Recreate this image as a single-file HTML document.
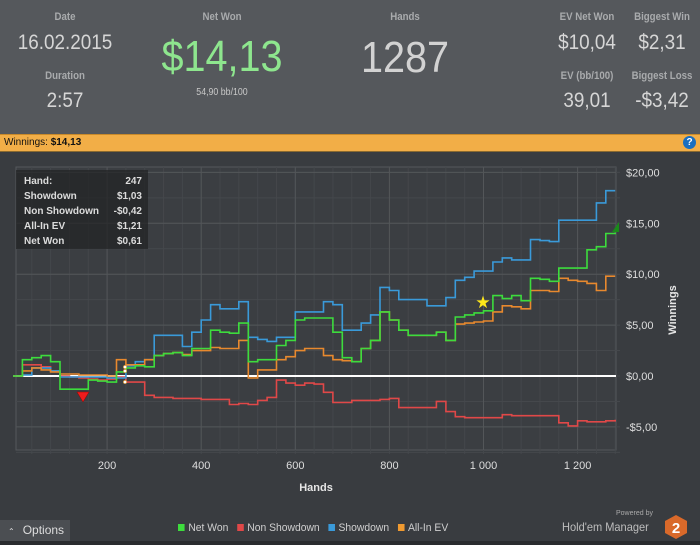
<!DOCTYPE html>
<html><head><meta charset="utf-8">
<style>
body{margin:0;width:700px;height:545px;overflow:hidden;background:#393c40;font-family:"Liberation Sans",sans-serif;}
.abs{position:absolute;}
.lbl{position:absolute;color:#a9abad;font-size:11px;font-weight:bold;transform:translateX(-50%) scaleX(0.88);white-space:nowrap;}
.val{position:absolute;color:#d6d6d6;font-size:21px;transform:translateX(-50%) scaleX(0.9);white-space:nowrap;}
</style></head><body>
<div class="abs" style="left:0;top:0;width:700px;height:134px;background:#55585c;">
 <div class="lbl" style="left:65px;top:11px">Date</div>
 <div class="val" style="left:65px;top:31px">16.02.2015</div>
 <div class="lbl" style="left:65px;top:70px">Duration</div>
 <div class="val" style="left:65px;top:89px">2:57</div>
 <div class="lbl" style="left:222px;top:11px">Net Won</div>
 <div class="val" style="left:222px;top:32px;font-size:44px;color:#8ee68e">$14,13</div>
 <div class="lbl" style="left:222px;top:87px;font-weight:normal;font-size:10px;color:#c8c8c8">54,90 bb/100</div>
 <div class="lbl" style="left:405px;top:11px">Hands</div>
 <div class="val" style="left:405px;top:33px;font-size:44px;color:#d2d2d2">1287</div>
 <div class="lbl" style="left:587px;top:11px">EV Net Won</div>
 <div class="val" style="left:587px;top:31px">$10,04</div>
 <div class="lbl" style="left:662px;top:11px">Biggest Win</div>
 <div class="val" style="left:662px;top:31px">$2,31</div>
 <div class="lbl" style="left:587px;top:70px">EV (bb/100)</div>
 <div class="val" style="left:587px;top:89px">39,01</div>
 <div class="lbl" style="left:662px;top:70px">Biggest Loss</div>
 <div class="val" style="left:662px;top:89px">-$3,42</div>
</div>
<div class="abs" style="left:0;top:134px;width:700px;height:16px;background:#f2ae47;border-top:1px solid #c98a2a;border-bottom:1px solid #8a6a30;font-size:10px;line-height:15px;color:#111;">
 <span style="margin-left:4px">Winnings: <b>$14,13</b></span>
 <div style="position:absolute;right:4px;top:1px;width:13px;height:13px;border-radius:50%;background:#1a6fc0;color:#fff;font-weight:bold;font-size:10px;line-height:13px;text-align:center;">?</div>
</div>
<svg class="abs" style="left:0;top:0" width="700" height="545" id="chart"></svg>
<div class="abs" style="left:16px;top:170px;width:132px;height:79px;background:rgba(35,36,38,0.75);font-size:10px;font-weight:bold;color:#dcdcdc;">
 <div style="position:absolute;left:8px;top:4px;line-height:15px">Hand:<br>Showdown<br>Non Showdown<br>All-In EV<br>Net Won</div>
 <div style="position:absolute;right:6px;top:4px;line-height:15px;text-align:right">247<br>$1,03<br>-$0,42<br>$1,21<br>$0,61</div>
</div>
<div class="abs" style="left:0;top:520px;width:70px;height:21px;background:#4b4e52;color:#ddd;font-size:12px;line-height:21px;"><span style="margin-left:8px;font-size:8px">&#8963;</span><span style="margin-left:8px">Options</span></div>
<div class="abs" style="left:178px;top:522px;font-size:11px;color:#cfcfcf;white-space:nowrap;transform:scaleX(0.94);transform-origin:left;">
 <span><span style="display:inline-block;width:7px;height:7px;background:#3ddc3d;margin-right:4px"></span>Net Won</span>
 <span style="margin-left:6px"><span style="display:inline-block;width:7px;height:7px;background:#e04848;margin-right:4px"></span>Non Showdown</span>
 <span style="margin-left:6px"><span style="display:inline-block;width:7px;height:7px;background:#3a9ad9;margin-right:4px"></span>Showdown</span>
 <span style="margin-left:6px"><span style="display:inline-block;width:7px;height:7px;background:#f09a30;margin-right:4px"></span>All-In EV</span>
</div>
<div class="abs" style="left:616px;top:510px;font-size:7px;color:#aaa;">Powered by</div>
<div class="abs" style="left:562px;top:520px;font-size:12px;color:#bdbdbd;transform:scaleX(0.92);transform-origin:left;">Hold'em Manager</div>
<svg class="abs" style="left:664px;top:514px" width="24" height="26"><polygon points="12,1 23,7 23,19 12,25 1,19 1,7" fill="#d9692a"/><text x="12" y="19" font-size="15" font-weight="bold" fill="#fff" text-anchor="middle" font-family="Liberation Sans">2</text></svg>
<div class="abs" style="left:0;top:541px;width:700px;height:4px;background:#2a2c2f"></div>
<script>
const hands=[0,20,40,60,80,100,120,140,160,180,200,220,240,260,280,300,320,340,360,380,400,420,440,460,480,500,520,540,560,580,600,620,640,660,680,700,720,740,760,780,800,820,840,860,880,900,920,940,960,980,1000,1020,1040,1060,1080,1100,1120,1140,1160,1180,1200,1220,1240,1260,1280];
const netWon=[0,1.6,1.8,2.0,1.4,-1.3,-1.3,-1.3,-0.4,-0.5,-0.6,0.4,0.8,1.0,0.9,2.0,2.2,2.3,2.0,2.7,2.7,4.5,4.3,4.2,5.2,1.4,1.6,1.6,3.0,3.5,5.5,5.7,5.7,5.7,4.3,1.8,1.4,2.7,3.5,6.3,5.5,4.5,4.0,4.0,4.0,4.3,3.5,5.8,6.0,6.2,6.4,7.9,7.6,7.9,7.4,9.6,9.5,9.3,10.6,10.6,10.6,12.4,12.7,14.0,14.1];
const allInEV=[0,0.5,0.8,0.6,0.4,0.2,0.2,0.1,0.1,0.1,0.0,1.6,1.1,1.1,1.6,2.0,2.2,2.3,2.1,2.5,2.5,2.8,2.7,2.7,3.5,-0.2,0.6,0.6,1.6,1.9,2.5,2.7,2.7,2.0,1.6,1.5,1.4,2.7,3.5,6.3,5.5,4.5,4.0,4.0,4.0,4.3,3.5,5.1,5.2,5.3,5.4,6.3,6.9,6.8,6.6,8.4,8.4,8.3,9.6,9.4,9.3,9.1,8.4,9.8,9.8];
const showdown=[0,0.1,0.8,0.8,0.5,-0.1,-0.1,-0.1,-0.1,-0.1,-0.2,-0.2,1.0,1.4,1.6,4.0,4.0,4.0,2.9,4.3,5.5,7.0,6.6,6.6,7.3,3.8,3.6,3.4,3.8,3.8,6.3,6.3,6.3,7.3,7.0,4.5,4.5,5.2,6.0,8.7,8.4,7.5,7.5,7.5,6.9,6.9,7.7,9.4,9.7,10.3,10.3,11.2,11.6,11.4,11.4,13.4,13.3,13.2,15.3,15.3,15.3,15.3,17.0,18.2,18.2];
const nonShowdown=[0,1.1,1.1,0.9,0.5,0.0,-0.1,-0.2,-0.3,-0.4,-0.3,-0.1,-0.6,-0.6,-1.9,-2.1,-2.1,-2.2,-2.2,-2.2,-2.3,-2.3,-2.3,-2.8,-2.7,-2.8,-2.4,-2.1,-0.4,-0.7,-0.9,-0.7,-0.8,-1.6,-2.6,-2.6,-2.4,-2.4,-2.4,-2.3,-2.2,-3.1,-3.1,-3.1,-3.1,-2.5,-3.5,-4.0,-4.1,-4.1,-4.1,-4.1,-3.8,-3.9,-3.9,-3.9,-3.9,-3.9,-4.6,-4.9,-4.4,-4.5,-4.5,-4.4,-4.3];
const yTicks=[20,15,10,5,0,-5];
const yTickLabels=["$20,00","$15,00","$10,00","$5,00","$0,00","-$5,00"];
const xTicks=[200,400,600,800,1000,1200];
const xTickLabels=["200","400","600","800","1 000","1 200"];

const NS='http://www.w3.org/2000/svg';
const svg=document.getElementById('chart');
const L=16,R=616,T=167,B=450;
function X(h){return 13+h*0.4705;}
function Y(v){return 376-v*10.18;}
function mk(tag,attrs,parent){const e=document.createElementNS(NS,tag);for(const k in attrs)e.setAttribute(k,attrs[k]);(parent||svg).appendChild(e);return e;}
const bg=mk('rect',{x:L,y:T,width:R-L,height:B-T,fill:'#3b3e42',stroke:'#55585c'});


for(let h=40;h<1290;h+=40){const l=mk('line',{x1:X(h),x2:X(h),y1:T,y2:B+4,stroke:'#44474b','stroke-width':1});

}
for(let v=-7.5;v<=20;v+=2.5){const l=mk('line',{x1:L,x2:R+4,y1:Y(v),y2:Y(v),stroke:'#45484c','stroke-width':1});

}
xTicks.forEach((t,i)=>{const l=mk('line',{x1:X(t),x2:X(t),y1:T,y2:B,stroke:'#535659','stroke-width':1});


const tx=mk('text',{x:X(t),y:469,fill:'#dedede','font-size':11,'text-anchor':'middle','font-family':'Liberation Sans, sans-serif'});tx.textContent=xTickLabels[i];

});
yTicks.forEach((t,i)=>{const l=mk('line',{x1:L,x2:R,y1:Y(t),y2:Y(t),stroke:'#535659','stroke-width':1});


const tx=mk('text',{x:626,y:Y(t)+4,fill:'#dedede','font-size':11,'font-family':'Liberation Sans, sans-serif'});tx.textContent=yTickLabels[i];

});
const zl=mk('line',{x1:L,x2:R,y1:Y(0),y2:Y(0),stroke:'#ffffff','stroke-width':2});


function series(vals,color,name){let d='M'+X(hands[0])+','+Y(vals[0]);
for(let i=1;i<hands.length;i++){d+=' L'+X(hands[i]).toFixed(1)+','+Y(vals[i-1]).toFixed(1)+' L'+X(hands[i]).toFixed(1)+','+Y(vals[i]).toFixed(1);}
const p=mk('path',{d:d,fill:'none',stroke:color,'stroke-width':1.6});

}
series(nonShowdown,'#e04848','non-showdown-line');
series(showdown,'#3a9ad9','showdown-line');
series(allInEV,'#e8892e','all-in-ev-line');
series(netWon,'#3ddc3d','net-won-line');
const tri=mk('polygon',{points:'77,392 89,392 83,402',fill:'#ee1c1c',stroke:'#900','stroke-width':0.5});


const st=mk('text',{x:483,y:308,fill:'#ffe81a','font-size':17,'text-anchor':'middle'});st.textContent='★';


const gt=mk('polygon',{points:'612,232 619,232 619,222',fill:'#1a8a1a'});


[367,371,382].forEach(y=>{const c=mk('circle',{cx:125,cy:y,r:1.6,fill:'#fff',stroke:'#e8a030','stroke-width':0.6});

});
const yt=mk('text',{x:0,y:0,fill:'#e6e6e6','font-size':11,'font-weight':'bold','text-anchor':'middle','transform':'translate(676,310) rotate(-90)','font-family':'Liberation Sans, sans-serif'});yt.textContent='Winnings';


const xt=mk('text',{x:316,y:491,fill:'#e6e6e6','font-size':11,'font-weight':'bold','text-anchor':'middle','font-family':'Liberation Sans, sans-serif'});xt.textContent='Hands';


</script>
</body></html>
